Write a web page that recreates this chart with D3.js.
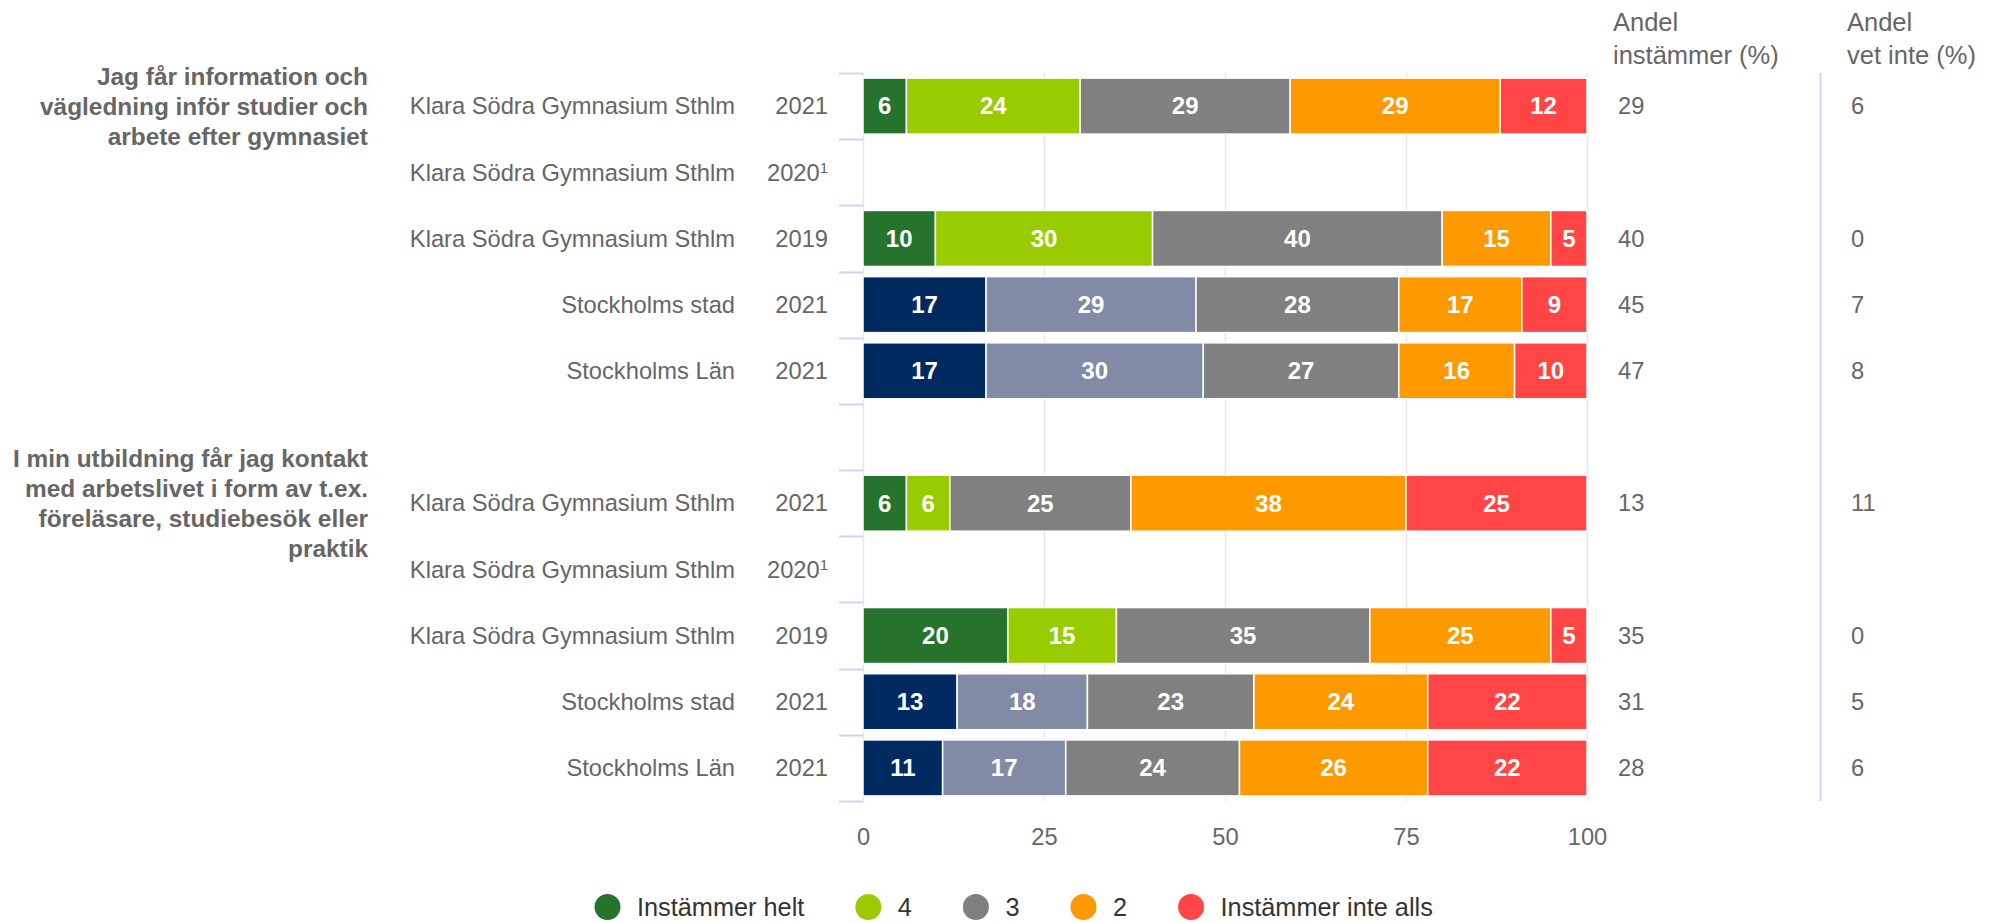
<!DOCTYPE html>
<html>
<head>
<meta charset="utf-8">
<script src="https://cdn.jsdelivr.net/npm/d3@7"></script>
<style>
  body { margin: 0; background: #fff; }
  svg { font-family: "Liberation Sans", Arial, Helvetica, sans-serif; }
</style>
</head>
<body>
<svg id="chart"></svg>
<script>
// answer categories (legend order)
const answers = ["Instämmer helt", "4", "3", "2", "Instämmer inte alls"];
const schoolColors = ["#26732d", "#99cc00", "#808080", "#ff9900", "#ff4545"];
const areaColors = ["#002a60", "#818ba5", "#808080", "#ff9900", "#ff4545"];

const questionLines = [
	["Jag får information och", "vägledning inför studier och", "arbete efter gymnasiet"],
	["I min utbildning får jag kontakt", "med arbetslivet i form av t.ex.", "föreläsare, studiebesök eller", "praktik"]
];

const units = ["Klara Södra Gymnasium Sthlm", "Klara Södra Gymnasium Sthlm", "Klara Södra Gymnasium Sthlm", "Stockholms stad", "Stockholms Län"];
const years = ["2021", "2020", "2019", "2021", "2021"];
const footnote = [false, true, false, false, false];
const isSchool = [true, true, true, false, false];

// share per answer, null = no data
const q1Values = [[6, 24, 29, 29, 12], null, [10, 30, 40, 15, 5], [17, 29, 28, 17, 9], [17, 30, 27, 16, 10]];
const q1Agree = [29, null, 40, 45, 47];
const q1DontKnow = [6, null, 0, 7, 8];

const q2Values = [[6, 6, 25, 38, 25], null, [20, 15, 35, 25, 5], [13, 18, 23, 24, 22], [11, 17, 24, 26, 22]];
const q2Agree = [13, null, 35, 31, 28];
const q2DontKnow = [11, null, 0, 5, 6];

const xTicks = [0, 25, 50, 75, 100];
const agreeHeader = ["Andel", "instämmer (%)"];
const dontKnowHeader = ["Andel", "vet inte (%)"];

let width = 1994;
let height = 922;
let fontSize = 23.7;
let textColor = "#666666";
let lineColor = "#ccd6eb";

let svg = d3.select('#chart')
	.attr('width', width)
	.attr('height', height);

// build rows, with one empty slot between the questions
let rows = [];
[[q1Values, q1Agree, q1DontKnow], [q2Values, q2Agree, q2DontKnow]].forEach(function(q, qi) {
	if (qi > 0) rows.push({ gap: true });
	units.forEach(function(u, i) {
		rows.push({
			q: qi, first: i === 0, unit: u, year: years[i], note: footnote[i],
			values: q[0][i], agree: q[1][i], dontKnow: q[2][i],
			colors: isSchool[i] ? schoolColors : areaColors
		});
	});
});

let x = d3.scaleLinear().domain([0, 100]).range([863, 1587]);
let y = d3.scaleBand().domain(d3.range(rows.length)).range([73, 801]);
let step = y.step();
let barH = step * 0.846;
let barOff = step * 0.077;

// grid
svg.append('g')
	.attr('class', 'grid')
	.selectAll('line')
	.data(xTicks)
	.enter()
	.append('line')
	.attr('x1', d => x(d) + 0.5).attr('x2', d => x(d) + 0.5)
	.attr('y1', y.range()[0]).attr('y2', y.range()[1])
	.style('stroke', '#e6e6e6')
	.style('stroke-width', 1.5);

// category axis ticks at band edges
svg.append('g')
	.attr('class', 'yaxis')
	.selectAll('line')
	.data(d3.range(rows.length + 1))
	.enter()
	.append('line')
	.attr('x1', x(0) - 24).attr('x2', x(0))
	.attr('y1', d => Math.round(y.range()[0] + d * step) + 0.5)
	.attr('y2', d => Math.round(y.range()[0] + d * step) + 0.5)
	.style('stroke', lineColor)
	.style('stroke-width', 2);

// separator for the right-hand columns
svg.append('line')
	.attr('x1', 1820.5).attr('x2', 1820.5)
	.attr('y1', y.range()[0]).attr('y2', y.range()[1])
	.style('stroke', lineColor)
	.style('stroke-width', 2);

// bars
let rowG = svg.append('g')
	.attr('class', 'rows')
	.selectAll('g')
	.data(rows)
	.enter()
	.append('g')
	.attr('transform', (d, i) => 'translate(0,' + y(i) + ')');

rowG.each(function(r) {
	if (r.gap || !r.values) return;
	let acc = 0;
	let segs = r.values.map(function(v, k) {
		let s = { x0: acc, x1: acc + v, v: v, color: r.colors[k] };
		acc += v;
		return s;
	});
	let g = d3.select(this);
	g.selectAll('rect')
		.data(segs)
		.enter()
		.append('rect')
		.attr('x', d => x(d.x0))
		.attr('width', d => x(d.x1) - x(d.x0))
		.attr('y', barOff)
		.attr('height', barH)
		.style('fill', d => d.color)
		.style('stroke', '#ffffff')
		.style('stroke-width', 1.5);
	g.selectAll('text.val')
		.data(segs)
		.enter()
		.append('text')
		.attr('class', 'val')
		.attr('x', d => (x(d.x0) + x(d.x1)) / 2)
		.attr('y', step / 2)
		.attr('dy', '0.35em')
		.attr('text-anchor', 'middle')
		.style('fill', '#fff')
		.style('font-weight', 'bold')
		.style('font-size', '24px')
		.text(d => d.v);
});

// unit and year labels
rowG.filter(d => !d.gap)
	.append('text')
	.attr('x', 735)
	.attr('y', step / 2)
	.attr('dy', '0.35em')
	.attr('text-anchor', 'end')
	.style('fill', textColor)
	.style('font-size', fontSize + 'px')
	.text(d => d.unit);

let yearText = rowG.filter(d => !d.gap)
	.append('text')
	.attr('x', 828)
	.attr('y', step / 2)
	.attr('dy', '0.35em')
	.attr('text-anchor', 'end')
	.style('fill', textColor)
	.style('font-size', fontSize + 'px')
	.text(d => d.year);
yearText.filter(d => d.note)
	.append('tspan')
	.attr('dy', '-0.5em')
	.style('font-size', '15px')
	.text('1');

// right-hand columns
rowG.filter(d => !d.gap && d.agree != null)
	.append('text')
	.attr('x', 1618)
	.attr('y', step / 2)
	.attr('dy', '0.35em')
	.style('fill', textColor)
	.style('font-size', fontSize + 'px')
	.text(d => d.agree);
rowG.filter(d => !d.gap && d.dontKnow != null)
	.append('text')
	.attr('x', 1851)
	.attr('y', step / 2)
	.attr('dy', '0.35em')
	.style('fill', textColor)
	.style('font-size', fontSize + 'px')
	.text(d => d.dontKnow);

// question labels, centred on the first row of each question
rowG.filter(d => d.first)
	.append('text')
	.attr('text-anchor', 'end')
	.style('fill', textColor)
	.style('font-weight', 'bold')
	.style('font-size', '24.4px')
	.each(function(d) {
		let lines = questionLines[d.q];
		let lh = 30;
		d3.select(this).selectAll('tspan')
			.data(lines)
			.enter()
			.append('tspan')
			.attr('x', 368)
			.attr('y', (l, i) => step / 2 + (i - (lines.length - 1) / 2) * lh)
			.attr('dy', '0.35em')
			.text(l => l);
	});

// column headers
[[agreeHeader, 1613], [dontKnowHeader, 1847]].forEach(function(h) {
	svg.append('text')
		.style('fill', textColor)
		.style('font-size', '25.5px')
		.selectAll('tspan')
		.data(h[0])
		.enter()
		.append('tspan')
		.attr('x', h[1])
		.attr('y', (l, i) => 31 + i * 33)
		.text(l => l);
});

// x axis
let xAxis = svg.append('g')
	.attr('transform', 'translate(0,' + (y.range()[1] + 24) + ')')
	.call(d3.axisBottom(x).tickValues(xTicks).tickSize(0));
xAxis.select('.domain').remove();
xAxis.selectAll('text')
	.style('fill', textColor)
	.style('font-size', fontSize + 'px')
	.style('font-family', '"Liberation Sans", Arial, sans-serif');

// legend
let legend = svg.append('g').attr('class', 'legend');
let lx = 607.5;
answers.forEach(function(a, i) {
	let item = legend.append('g').attr('transform', 'translate(' + lx + ',907)');
	item.append('circle').attr('r', 13).style('fill', schoolColors[i]);
	let t = item.append('text')
		.attr('x', 29.5)
		.attr('dy', '0.35em')
		.style('fill', '#333333')
		.style('font-size', '25.3px')
		.text(a);
	lx += 29.5 + t.node().getComputedTextLength() + 64;
});
</script>
</body>
</html>
